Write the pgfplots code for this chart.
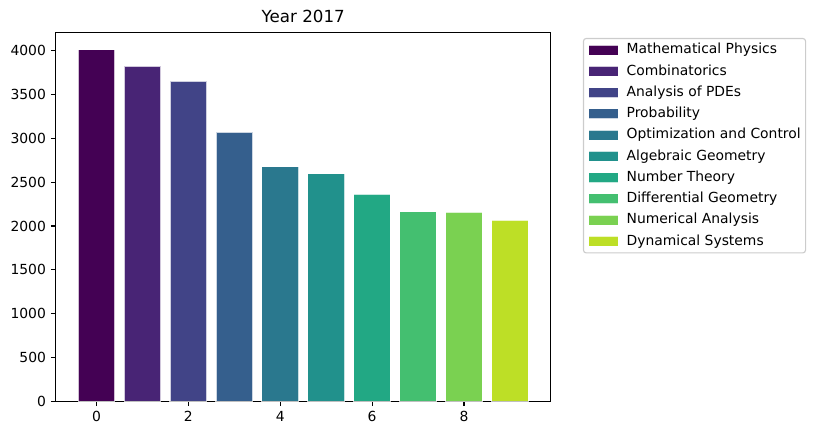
\documentclass[border=0pt]{standalone}
\usepackage{fontspec}
\setmainfont{DejaVu Sans}
\usepackage{pgfplots}
\pgfplotsset{compat=1.18}

% viridis sampled at 0, 0.1, ..., 0.9
\definecolor{c0}{HTML}{440154}
\definecolor{c1}{HTML}{482475}
\definecolor{c2}{HTML}{414487}
\definecolor{c3}{HTML}{355F8D}
\definecolor{c4}{HTML}{2A788E}
\definecolor{c5}{HTML}{21918C}
\definecolor{c6}{HTML}{22A884}
\definecolor{c7}{HTML}{44BF70}
\definecolor{c8}{HTML}{7AD151}
\definecolor{c9}{HTML}{BDDF26}

\begin{document}
\begin{tikzpicture}
\useasboundingbox (-40.1pt,-24.3pt) rectangle (548.1pt,288.9pt);
\begin{axis}[
    at={(0,0)}, anchor=south west,
    scale only axis,
    width=356.4pt, height=265.7pt,
    ybar,
    bar width=0.8,
    xmin=-0.89, xmax=9.89,
    ymin=0, ymax=4210,
    xtick={0,2,4,6,8},
    ytick={0,500,...,4000},
    scaled y ticks=false,
    /pgf/number format/1000 sep={},
    /pgf/number format/assume math mode=true,
    tick label style={font=\fontsize{10}{12}\selectfont},
    tick align=outside,
    major tick length=3.5pt,
    xtick pos=bottom, ytick pos=left,
    every tick/.style={black, line width=0.8pt},
    axis line style={line width=0.8pt},
    title={Year 2017},
    title style={font=\fontsize{12}{14}\selectfont, at={(0.5,1)}, anchor=south, yshift=-0.5pt, inner sep=1pt},
    legend style={at={(1.065,0.9846)}, anchor=north west,
        draw=black!20, rounded corners=2pt, line width=0.8pt,
        font=\fontsize{10}{12}\selectfont,
        inner xsep=3.5pt, inner ysep=3.5pt, row sep=5.6pt,
        nodes={inner sep=0pt, text height=7.6pt, text depth=2.1pt}},
    legend cell align=left,
    legend image code/.code={\draw[#1, line width=0.6pt, rounded corners=0pt] (0pt,-3.6pt) rectangle (21pt,3.6pt);},
    every axis plot/.append style={bar shift=0pt, draw=white, draw opacity=0.75, line width=0.8pt},
]
\addplot[fill=c0] coordinates {(0,4010)};
\addlegendentry{\hspace{6pt}Mathematical Physics}
\addplot[fill=c1] coordinates {(1,3820)};
\addlegendentry{\hspace{6pt}Combinatorics}
\addplot[fill=c2] coordinates {(2,3650)};
\addlegendentry{\hspace{6pt}Analysis of PDEs}
\addplot[fill=c3] coordinates {(3,3070)};
\addlegendentry{\hspace{6pt}Probability}
\addplot[fill=c4] coordinates {(4,2675)};
\addlegendentry{\hspace{6pt}Optimization and Control}
\addplot[fill=c5] coordinates {(5,2595)};
\addlegendentry{\hspace{6pt}Algebraic Geometry}
\addplot[fill=c6] coordinates {(6,2365)};
\addlegendentry{\hspace{6pt}Number Theory}
\addplot[fill=c7] coordinates {(7,2160)};
\addlegendentry{\hspace{6pt}Differential Geometry}
\addplot[fill=c8] coordinates {(8,2158)};
\addlegendentry{\hspace{6pt}Numerical Analysis}
\addplot[fill=c9] coordinates {(9,2068)};
\addlegendentry{\hspace{6pt}Dynamical Systems}
\end{axis}
\end{tikzpicture}
\end{document}
